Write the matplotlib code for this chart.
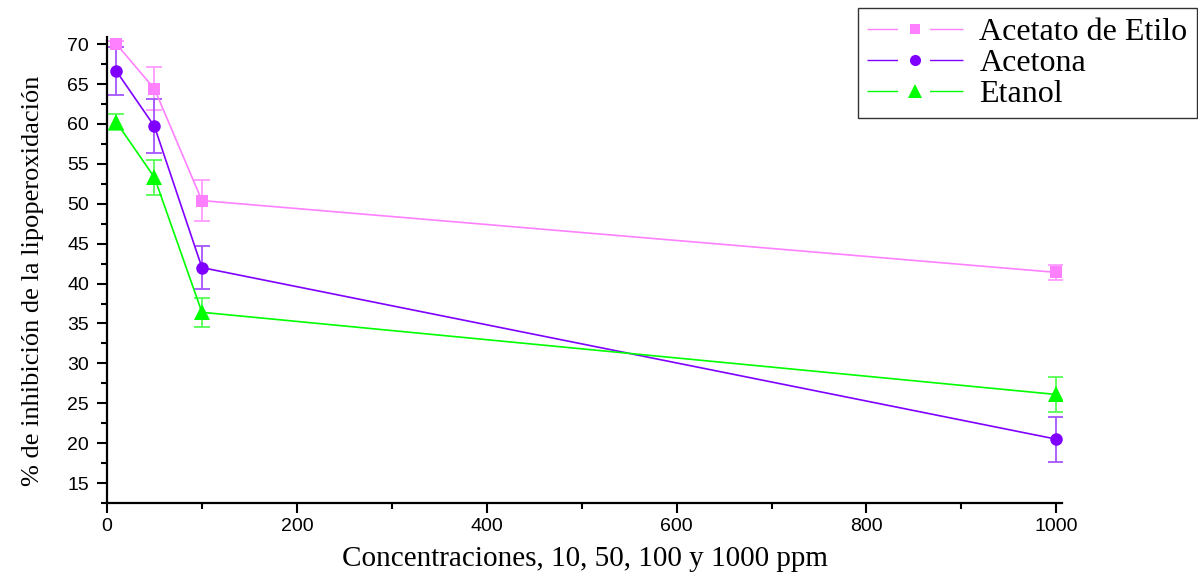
import matplotlib
matplotlib.use('Agg')
import matplotlib.pyplot as plt
from matplotlib.ticker import MultipleLocator
from matplotlib.lines import Line2D

# datos
conc = [10, 50, 100, 1000]

acetato = [70.0, 64.4, 50.4, 41.4]
acetato_err = [0.4, 2.7, 2.6, 0.9]

acetona = [66.6, 59.7, 42.0, 20.5]
acetona_err = [3.0, 3.4, 2.7, 2.8]

etanol = [60.2, 53.3, 36.4, 26.1]
etanol_err = [1.0, 2.2, 1.8, 2.2]

nombres = ['Acetato de Etilo', 'Acetona', 'Etanol']
cores = ['#FF80FF', '#7F00FF', '#00FF00']
cores_err = ['#FF9CFF', '#A555FF', '#55FF55']
marcadores = ['s', 'o', '^']
tamanos = [8, 9, 11]

fig = plt.figure(figsize=(11.98, 5.73), dpi=100)
ax = fig.add_axes([107 / 1198, 1 - 503 / 573, (1062 - 107) / 1198, (503 - 37) / 573])

series = [(acetato, acetato_err), (acetona, acetona_err), (etanol, etanol_err)]
for i, (y, e) in enumerate(series):
    ax.errorbar(conc, y, yerr=e, fmt='none', ecolor=cores_err[i], elinewidth=1.3,
                capsize=6, capthick=1.3, zorder=2)
    ax.plot(conc, y, color=cores[i], linewidth=1.2, marker=marcadores[i],
            markersize=tamanos[i], markeredgewidth=0, zorder=3)

ax.set_xlim(0, 1006)
ax.set_ylim(12.5, 70.9)
ax.xaxis.set_major_locator(MultipleLocator(200))
ax.xaxis.set_minor_locator(MultipleLocator(100))
ax.yaxis.set_minor_locator(MultipleLocator(2.5))
ax.set_yticks([15, 20, 25, 30, 35, 40, 45, 50, 55, 60, 65, 70])

for lado in ['top', 'right']:
    ax.spines[lado].set_visible(False)
for lado in ['left', 'bottom']:
    ax.spines[lado].set_linewidth(1.6)

ax.tick_params(which='major', direction='out', length=7, width=1.5,
               labelsize=14, pad=4)
ax.tick_params(axis='y', which='major', pad=6)
ax.tick_params(which='minor', direction='out', length=4, width=1.5)
for t in ax.get_xticklabels() + ax.get_yticklabels():
    t.set_fontfamily('Liberation Sans')

ax.set_xlabel('Concentraciones, 10, 50, 100 y 1000 ppm', fontfamily='Liberation Serif',
              fontsize=21, labelpad=8)
ax.set_ylabel('% de inhibición de la lipoperoxidación', fontfamily='Liberation Serif',
              fontsize=19)
ax.yaxis.set_label_coords(-0.066, 0.476)

# leyenda con la linea cortada alrededor del marcador
manejadores = []
for i in range(3):
    manejadores.append(Line2D([], [], color=cores[i], linewidth=1.0,
                              linestyle=(0, (22, 23, 100)), marker=marcadores[i],
                              markersize=tamanos[i] - 1, markeredgewidth=0))
leg = fig.legend(manejadores, nombres, loc='upper right',
                 bbox_to_anchor=(1197 / 1198, 1 - 8 / 573),
                 prop={'family': 'Liberation Serif', 'size': 23}, frameon=True,
                 fancybox=False, edgecolor='black', handlelength=3.0,
                 borderpad=0.3, labelspacing=0.05, handletextpad=0.5,
                 borderaxespad=0)
leg.get_frame().set_linewidth(1.0)

fig.savefig('out.png', dpi=100)
